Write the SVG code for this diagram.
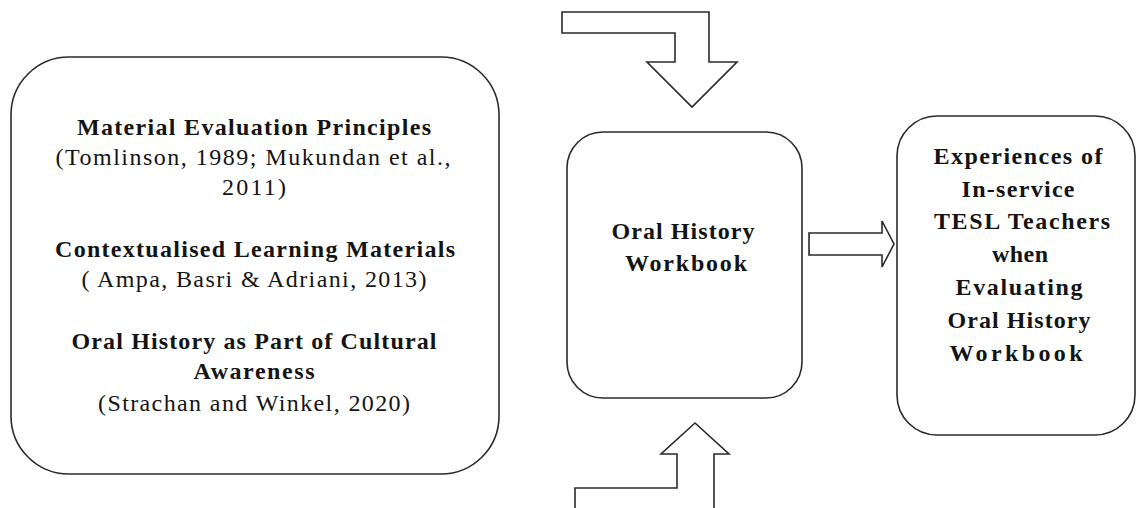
<svg xmlns="http://www.w3.org/2000/svg" width="1136" height="508" viewBox="0 0 1136 508">
<style>
  .box { fill: #ffffff; stroke: #2a2a2a; stroke-width: 1.6; }
  .arrow { fill: #ffffff; stroke: #2a2a2a; stroke-width: 1.6; stroke-linejoin: miter; }
  .t { font-family: "Liberation Serif", "Times New Roman", serif; font-size: 24px; fill: #141414; text-anchor: middle; }
  .b { font-weight: bold; }
</style>
<rect width="1136" height="508" fill="#ffffff"/>
<g id="connectors">
  <path class="arrow" d="M562,12 L709,12 L709,62 L737,62 L692,107 L647,62 L675,62 L675,33 L562,33 Z"/>
  <path class="arrow" d="M575,510 L575,488 L677,488 L677,454 L661,454 L695,423 L729,454 L714,454 L714,510"/>
  <path class="arrow" d="M809,233 L882,233 L882,221 L894,244 L882,267 L882,255 L809,255 Z"/>
</g>
<g id="node-theories">
  <rect class="box" x="11" y="57" width="488" height="417" rx="58" ry="58"/>
  <text class="t b" x="254" y="135" textLength="354" lengthAdjust="spacing">Material Evaluation Principles</text>
  <text class="t" x="253" y="165" textLength="395" lengthAdjust="spacing">(Tomlinson, 1989; Mukundan et al.,</text>
  <text class="t" x="254" y="195" textLength="64" lengthAdjust="spacing">2011)</text>
  <text class="t b" x="255" y="257" textLength="400" lengthAdjust="spacing">Contextualised Learning Materials</text>
  <text class="t" x="254" y="287" textLength="345" lengthAdjust="spacing">( Ampa, Basri &amp; Adriani, 2013)</text>
  <text class="t b" x="254" y="349" textLength="365" lengthAdjust="spacing">Oral History as Part of Cultural</text>
  <text class="t b" x="254" y="379" textLength="121" lengthAdjust="spacing">Awareness</text>
  <text class="t" x="254" y="411" textLength="312" lengthAdjust="spacing">(Strachan and Winkel, 2020)</text>
</g>
<g id="node-workbook">
  <rect class="box" x="567" y="132" width="235" height="266" rx="36" ry="36"/>
  <text class="t b" x="683" y="239" textLength="143" lengthAdjust="spacing">Oral History</text>
  <text class="t b" x="686" y="271" textLength="122" lengthAdjust="spacing">Workbook</text>
</g>
<g id="node-experiences">
  <rect class="box" x="897" y="116" width="238" height="319" rx="40" ry="40"/>
  <text class="t b" x="1018" y="164" textLength="169" lengthAdjust="spacing">Experiences of</text>
  <text class="t b" x="1018" y="197" textLength="113" lengthAdjust="spacing">In-service</text>
  <text class="t b" x="1022" y="229" textLength="176" lengthAdjust="spacing">TESL Teachers</text>
  <text class="t b" x="1020" y="262" textLength="56" lengthAdjust="spacing">when</text>
  <text class="t b" x="1019" y="295" textLength="127" lengthAdjust="spacing">Evaluating</text>
  <text class="t b" x="1019" y="328" textLength="143" lengthAdjust="spacing">Oral History</text>
  <text class="t b" x="1016" y="361" textLength="133" lengthAdjust="spacing">Workbook</text>
</g>
</svg>
